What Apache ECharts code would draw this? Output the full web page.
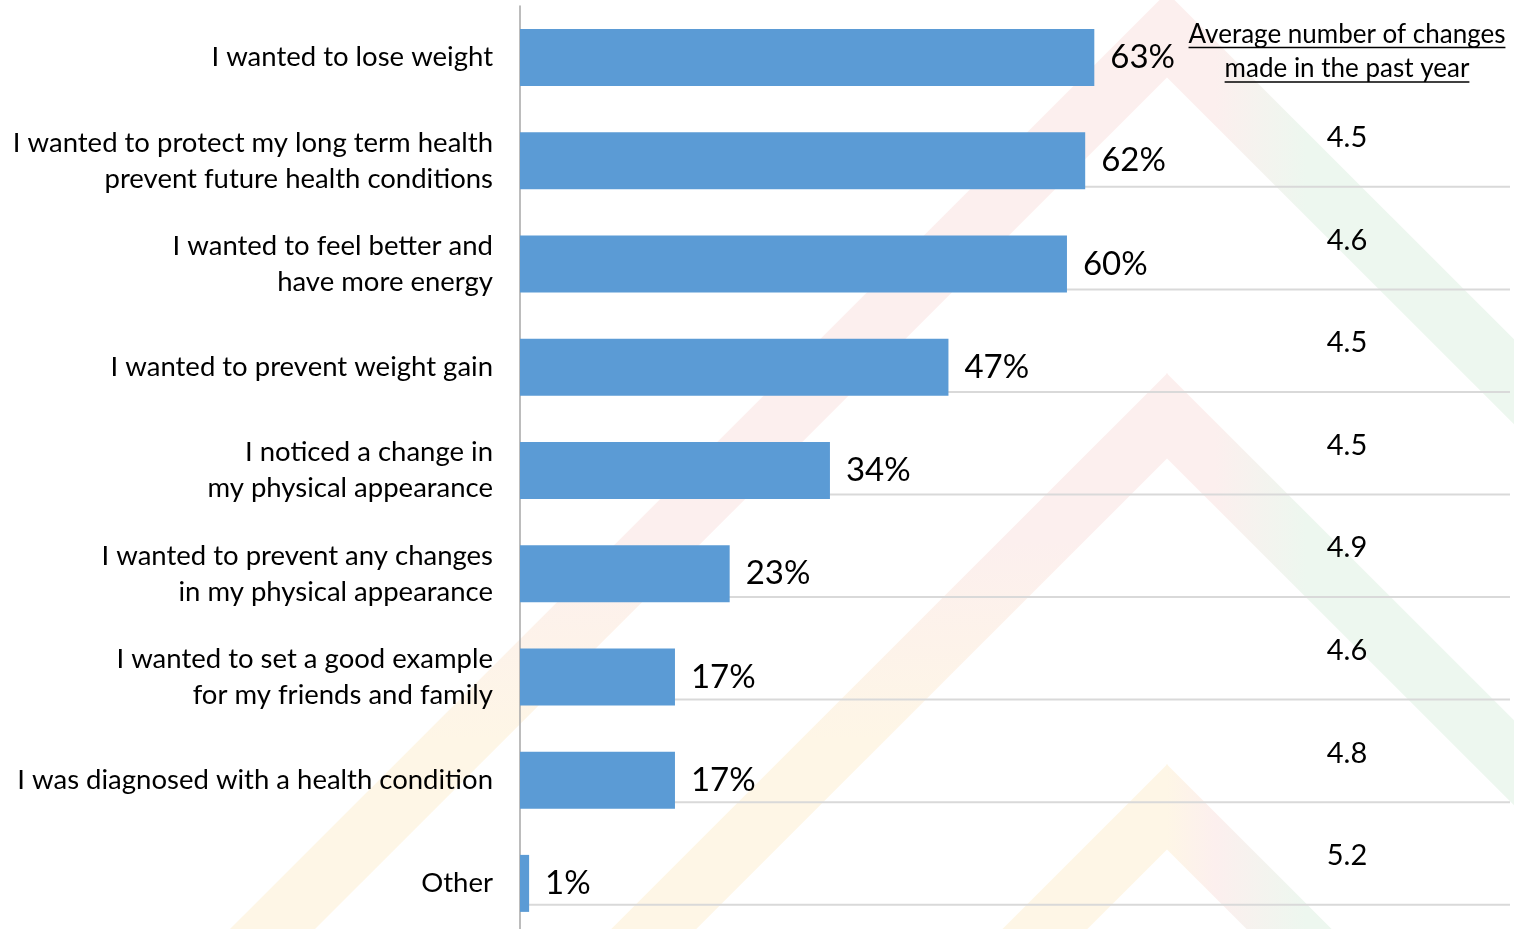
<!DOCTYPE html>
<html>
<head>
<meta charset="utf-8">
<script src="https://cdn.jsdelivr.net/npm/echarts@6/dist/echarts.min.js"></script>
<style>
  html, body { margin: 0; padding: 0; background: #ffffff; }
  #chart { width: 1514px; height: 929px; }
</style>
</head>
<body>
<div id="chart"></div>
<script>
// Reasons for making changes, share of respondents (%)
const reasons = [
  'I wanted to lose weight',
  'I wanted to protect my long term health\nprevent future health conditions',
  'I wanted to feel better and\nhave more energy',
  'I wanted to prevent weight gain',
  'I noticed a change in\nmy physical appearance',
  'I wanted to prevent any changes\nin my physical appearance',
  'I wanted to set a good example\nfor my friends and family',
  'I was diagnosed with a health condition',
  'Other'
];
const sharePct = [63, 62, 60, 47, 34, 23, 17, 17, 1];
// Average number of changes made in the past year (table column)
const avgChanges = [null, 4.5, 4.6, 4.5, 4.5, 4.9, 4.6, 4.8, 5.2];
const tableHeader = ['Average number of changes', 'made in the past year'];

const FONT = 'Lato, "Open Sans", sans-serif';
const HEADER_SIZE = 26;
const TABLE_X = 1347;

const chart = echarts.init(document.getElementById('chart'), null, { renderer: 'canvas' });

// width of a header line, used for its underline
const measureCtx = document.createElement('canvas').getContext('2d');
function textWidth(str, size) {
  measureCtx.font = size + 'px Lato';
  return measureCtx.measureText(str).width;
}

// faint chevron emblem behind the chart: left arm fades pink -> amber downwards,
// right arm fades towards green to the right
const PINK = '#fcefee', AMBER = '#fef6e6', GREEN = '#edf7ef';
function chevron(peakX, outerPeakY, id, peakColor) {
  const t = 85;            // vertical thickness of the band
  const L = 1000, R = 500; // arm reach to the left and right
  const leftArm = {
    type: 'polygon', id: id + 'L', silent: true, z: -10,
    shape: { points: [
      [peakX - L, outerPeakY + L], [peakX + 0.5, outerPeakY],
      [peakX + 0.5, outerPeakY + t], [peakX - L, outerPeakY + L + t]
    ] },
    style: { fill: {
      type: 'linear', global: true, x: 0, y: 540, x2: 0, y2: 740,
      colorStops: [{ offset: 0, color: PINK }, { offset: 1, color: AMBER }]
    } }
  };
  const rightArm = {
    type: 'polygon', id: id + 'R', silent: true, z: -10,
    shape: { points: [
      [peakX - 0.5, outerPeakY], [peakX + R, outerPeakY + R],
      [peakX + R, outerPeakY + R + t], [peakX - 0.5, outerPeakY + t]
    ] },
    style: { fill: {
      type: 'linear', global: true, x: peakX, y: 0, x2: 1305, y2: 0,
      colorStops: [
        { offset: 0, color: peakColor },
        { offset: 0.35, color: PINK },
        { offset: 1, color: GREEN }
      ]
    } }
  };
  return [leftArm, rightArm];
}

const headerGraphics = [];
tableHeader.forEach((line, i) => {
  const baseY = 34.5 + i * 34.5;
  const w = textWidth(line, HEADER_SIZE);
  headerGraphics.push({
    type: 'text',
    silent: true,
    style: {
      text: line,
      x: TABLE_X,
      y: baseY,
      align: 'center',
      verticalAlign: 'middle',
      font: HEADER_SIZE + 'px ' + FONT,
      fill: '#000000'
    }
  });
  headerGraphics.push({
    type: 'line',
    silent: true,
    shape: { x1: TABLE_X - w / 2, y1: baseY + 13, x2: TABLE_X + w / 2, y2: baseY + 13 },
    style: { stroke: '#000000', lineWidth: 1.5 }
  });
});

const tableData = [];
avgChanges.forEach((v, i) => {
  if (v !== null) tableData.push([0, i, v]);
});

const option = {
  animation: false,
  backgroundColor: '#ffffff',
  graphic: [].concat(
    chevron(1167, -8, 'chev1', PINK),
    chevron(1167, 373, 'chev2', PINK),
    chevron(1167, 764, 'chev3', AMBER),
    headerGraphics
  ),
  grid: [
    // bar chart (last row runs slightly past the bottom edge)
    { left: 520, width: 990, top: 6, height: 929, containLabel: false, outerBoundsMode: 'none' },
    // table column, slightly tighter row pitch
    { left: 520, width: 990, top: 6, height: 923, containLabel: false, outerBoundsMode: 'none' }
  ],
  xAxis: [
    { gridIndex: 0, type: 'value', min: 0, max: 108.6, show: false, splitLine: { show: false } },
    { gridIndex: 1, type: 'value', min: 0, max: 1, show: false, splitLine: { show: false } }
  ],
  yAxis: [
    {
      gridIndex: 0,
      type: 'category',
      inverse: true,
      data: reasons,
      axisLine: { show: true, lineStyle: { color: '#a6a6a6', width: 1.5 } },
      axisTick: { show: false },
      splitLine: { show: false },
      axisLabel: {
        margin: 27,
        fontFamily: FONT,
        fontSize: 27.5,
        lineHeight: 36,
        color: '#000000',
        align: 'right'
      }
    },
    {
      gridIndex: 1,
      type: 'category',
      inverse: true,
      data: reasons,
      show: false
    }
  ],
  series: [
    {
      // table column: row separators and the average-change values
      type: 'custom',
      xAxisIndex: 1,
      yAxisIndex: 1,
      z: 1,
      silent: true,
      encode: { x: 0, y: 1 },
      data: tableData,
      renderItem: function (params, api) {
        const c = api.coord([0, api.value(1)]);
        const cs = params.coordSys;
        return {
          type: 'group',
          children: [
            {
              type: 'line',
              shape: { x1: cs.x, y1: c[1] + 27, x2: cs.x + cs.width, y2: c[1] + 27 },
              style: { stroke: '#d9d9d9', lineWidth: 2 }
            },
            {
              type: 'text',
              style: {
                text: api.value(2).toFixed(1),
                x: TABLE_X,
                y: c[1] - 22,
                align: 'center',
                verticalAlign: 'middle',
                font: '29px ' + FONT,
                fill: '#000000'
              }
            }
          ]
        };
      }
    },
    {
      type: 'bar',
      xAxisIndex: 0,
      yAxisIndex: 0,
      z: 3,
      data: sharePct,
      barWidth: 57,
      itemStyle: { color: '#5b9bd5' },
      label: {
        show: true,
        position: 'right',
        distance: 16,
        formatter: '{c}%',
        fontFamily: FONT,
        fontSize: 33,
        color: '#000000'
      }
    }
  ]
};

chart.setOption(option);
</script>
</body>
</html>
